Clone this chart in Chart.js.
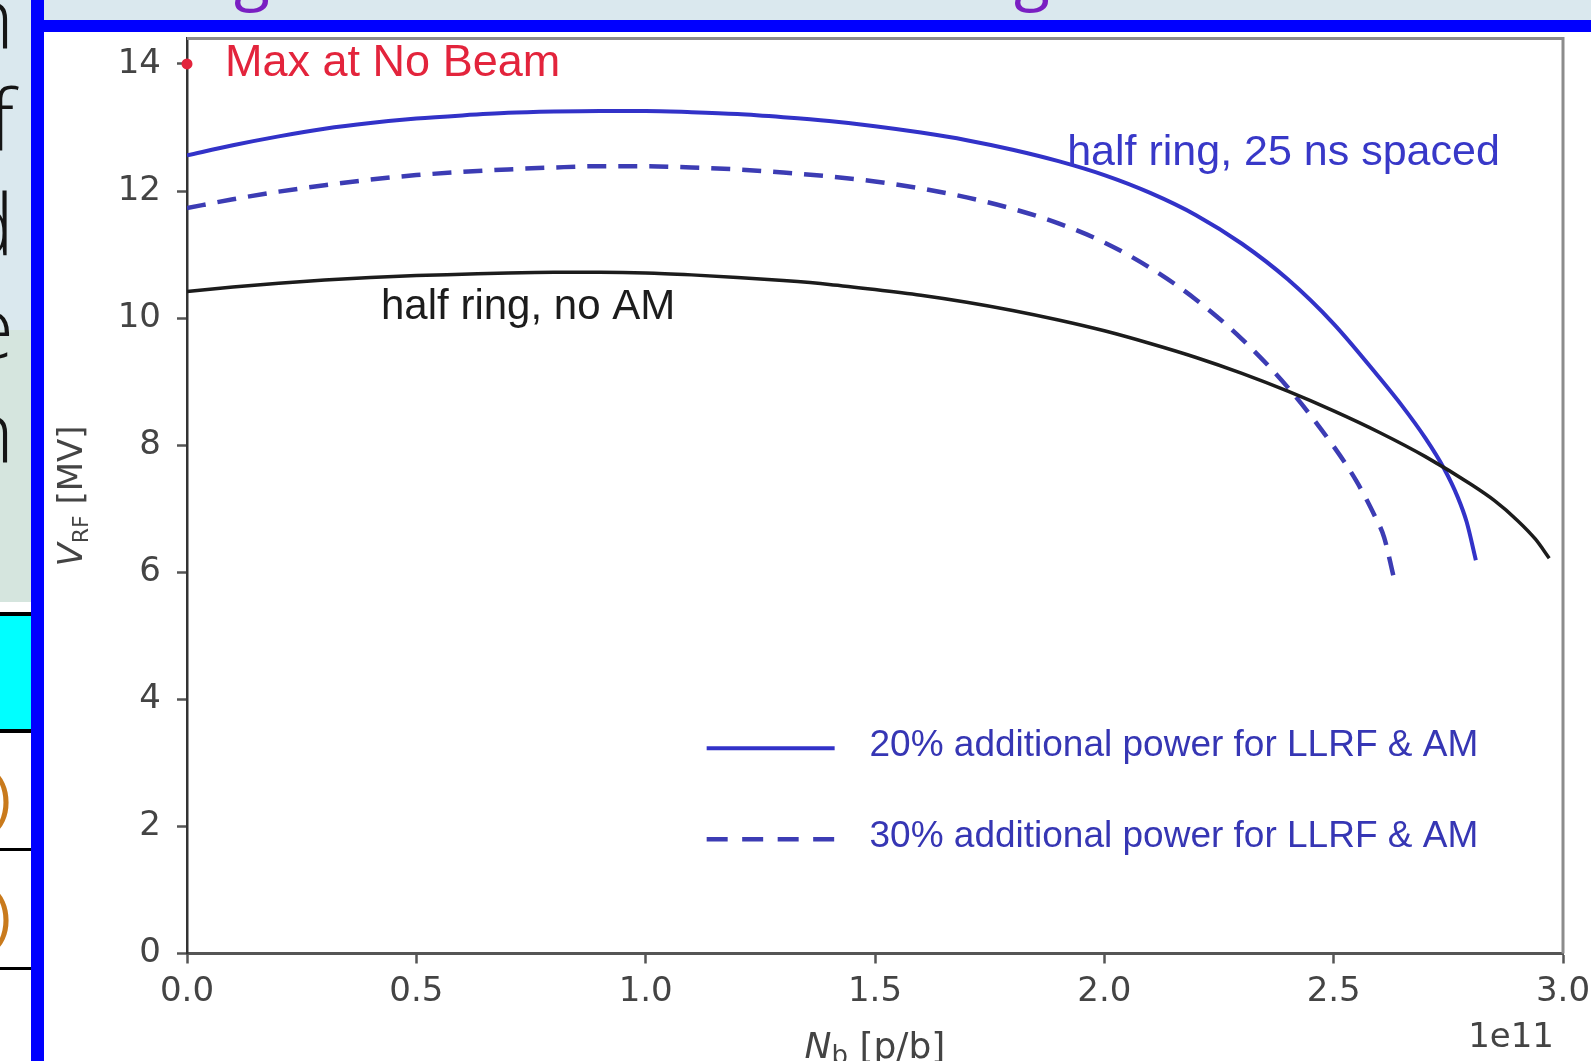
<!DOCTYPE html>
<html>
<head>
<meta charset="utf-8">
<script src="https://cdn.jsdelivr.net/npm/chart.js@4.4.1/dist/chart.umd.min.js"></script>
<style>
  html, body { margin: 0; padding: 0; width: 1591px; height: 1061px; overflow: hidden; background: #fff; }
  .abs { position: absolute; }
  #topband { left: 0; top: 0; width: 1591px; height: 20px; background: #dae8ee; }
  #panelA { left: 0; top: 0; width: 31px; height: 330px; background: #dae8ee; }
  #panelB { left: 0; top: 330px; width: 31px; height: 272px; background: #d5e5de; }
  #frameTop { left: 31px; top: 20px; width: 1560px; height: 12px; background: #0000ff; }
  #frameLeft { left: 31px; top: 0; width: 13px; height: 1061px; background: #0000ff; }
  #sidetext { left: -400px; top: -36.5px; width: 414px; text-align: right; font-family: "Open Sans"; font-weight: 300;
              font-size: 84px; line-height: 103.5px; color: #151515; }
  .rule { left: 0; width: 33px; height: 4px; background: #000; }
  #cyan { left: 0; top: 616px; width: 33px; height: 113px; background: #00ffff; }
  .paren { left: -30px; width: 41px; text-align: right; font-family: "Open Sans"; font-size: 62px; line-height: 62px; color: #c97a1c; }
  .titleg { font-family: "Open Sans"; font-size: 66px; line-height: 66px; color: #7a1fc2; top: -62px; }
  #chartBox { left: 44px; top: 32px; width: 1600px; height: 1040px; }
</style>
</head>
<body>
<div class="abs" id="topband"></div>
<div class="abs" id="panelA"></div>
<div class="abs" id="panelB"></div>
<div class="abs" id="sidetext">n<br>f<br>d<br>e<br>n</div>
<div class="abs rule" style="top:612px"></div>
<div class="abs" id="cyan"></div>
<div class="abs rule" style="top:729px"></div>
<div class="abs rule" style="top:848px; height:3px"></div>
<div class="abs rule" style="top:967px; height:3px"></div>
<div class="abs paren" style="top:765px">)</div>
<div class="abs paren" style="top:883px">)</div>
<div class="abs titleg" style="left:234px">g</div>
<div class="abs titleg" style="left:1014px">g</div>
<div class="abs" id="frameTop"></div>
<div class="abs" id="frameLeft"></div>
<div class="abs" id="chartBox"><canvas id="vrfChart" width="1600" height="1040"></canvas></div>

<script>
// N_b in units of 1e11 p/b, V_RF in MV
const blackX = [0, 0.1, 0.2, 0.3, 0.4, 0.5, 0.6, 0.7, 0.8, 0.9, 1.0, 1.1, 1.2, 1.3, 1.4, 1.5, 1.6, 1.7, 1.8, 1.9,
                2.0, 2.1, 2.2, 2.3, 2.4, 2.5, 2.6, 2.7, 2.8, 2.85, 2.9, 2.94, 2.97];
const blackY = [10.42, 10.49, 10.55, 10.60, 10.64, 10.67, 10.69, 10.71, 10.72, 10.72, 10.71, 10.68, 10.64, 10.59, 10.53, 10.45, 10.36, 10.25, 10.12, 9.97,
                9.80, 9.60, 9.38, 9.13, 8.85, 8.54, 8.20, 7.82, 7.38, 7.13, 6.82, 6.52, 6.22];

const solidX = [0, 0.1, 0.2, 0.3, 0.4, 0.5, 0.6, 0.7, 0.8, 0.9, 1.0, 1.1, 1.2, 1.3, 1.4, 1.5, 1.6, 1.7, 1.8, 1.9,
                2.0, 2.1, 2.2, 2.3, 2.4, 2.5, 2.6, 2.65, 2.7, 2.74, 2.77, 2.79, 2.81];
const solidY = [12.56, 12.72, 12.86, 12.98, 13.07, 13.14, 13.19, 13.23, 13.25, 13.26, 13.26, 13.24, 13.21, 13.16, 13.10, 13.02, 12.92, 12.80, 12.65, 12.47,
                12.25, 11.97, 11.62, 11.17, 10.61, 9.91, 9.06, 8.61, 8.11, 7.64, 7.19, 6.79, 6.19];

const dashX = [0, 0.1, 0.2, 0.3, 0.4, 0.5, 0.6, 0.7, 0.8, 0.9, 1.0, 1.1, 1.2, 1.3, 1.4, 1.5, 1.6, 1.7, 1.8, 1.9,
               2.0, 2.1, 2.2, 2.3, 2.4, 2.5, 2.55, 2.59, 2.61, 2.63];
const dashY = [11.73, 11.87, 11.99, 12.09, 12.18, 12.25, 12.30, 12.34, 12.37, 12.39, 12.39, 12.37, 12.34, 12.29, 12.23, 12.15, 12.04, 11.90, 11.72, 11.49,
               11.19, 10.79, 10.29, 9.67, 8.91, 7.98, 7.43, 6.88, 6.55, 5.95];

const maxBeamX = [0];
const maxBeamY = [14];

const xTicks = [0, 0.5, 1.0, 1.5, 2.0, 2.5, 3.0];
const xTickLabels = ['0.0', '0.5', '1.0', '1.5', '2.0', '2.5', '3.0'];
const yTicks = [0, 2, 4, 6, 8, 10, 12, 14];
const yTickLabels = ['0', '2', '4', '6', '8', '10', '12', '14'];

const legendLabels = ['20% additional power for LLRF & AM', '30% additional power for LLRF & AM'];

const BLUE = '#3232c8';
const DASHBLUE = '#3c3cb4';
const RED = '#e3243c';
const SANS = '"Liberation Sans", Arial, sans-serif';
const DV = '"DejaVu Sans", sans-serif';

function pts(xs, ys) {
    return xs.map((x, i) => ({ x: x, y: ys[i] }));
}

// text placed in data coordinates
const notes = [
    { text: 'Max at No Beam', x: 0.083, y: 14.0, color: RED, size: 45 },
    { text: 'half ring, 25 ns spaced', x: 1.919, y: 12.6, color: '#3838c8', size: 43 },
    { text: 'half ring, no AM', x: 0.423, y: 10.17, color: '#1c1c1c', size: 42 }
];
const legendSpot = { x0: 1.133, x1: 1.412, tx: 1.488, rows: [3.23, 1.80], dash: [21, 14.5] };

function drawRich(ctx, parts, x, y, align) {
    let w = 0;
    parts.forEach(p => { ctx.font = p.font; w += ctx.measureText(p.t).width; });
    let cx = align === 'center' ? x - w / 2 : (align === 'right' ? x - w : x);
    ctx.textAlign = 'left';
    ctx.textBaseline = 'alphabetic';
    parts.forEach(p => {
        ctx.font = p.font;
        ctx.fillText(p.t, cx, y + (p.dy || 0));
        cx += ctx.measureText(p.t).width;
    });
}

const extras = {
    id: 'extras',
    beforeDatasetsDraw(chart) {
        const { ctx, chartArea: a } = chart;
        ctx.save();
        ctx.strokeStyle = '#8c8c8c';
        ctx.lineWidth = 3;
        ctx.beginPath();
        ctx.moveTo(a.left, a.top);
        ctx.lineTo(a.right, a.top);
        ctx.lineTo(a.right, a.bottom);
        ctx.stroke();
        ctx.restore();
    },
    afterDraw(chart) {
        const { ctx, chartArea: a, scales: { x, y } } = chart;
        ctx.save();
        // annotations
        notes.forEach(n => {
            ctx.font = n.size + 'px ' + SANS;
            ctx.fillStyle = n.color;
            ctx.textAlign = 'left';
            ctx.textBaseline = 'middle';
            ctx.fillText(n.text, x.getPixelForValue(n.x), y.getPixelForValue(n.y));
        });
        // legend
        [1, 2].forEach((di, i) => {
            const ds = chart.data.datasets[di];
            const py = y.getPixelForValue(legendSpot.rows[i]);
            ctx.strokeStyle = ds.borderColor;
            ctx.lineWidth = ds.borderWidth;
            ctx.setLineDash(ds.borderDash ? legendSpot.dash : []);
            ctx.beginPath();
            ctx.moveTo(x.getPixelForValue(legendSpot.x0), py);
            ctx.lineTo(x.getPixelForValue(legendSpot.x1), py);
            ctx.stroke();
            ctx.setLineDash([]);
            ctx.font = '37px ' + SANS;
            ctx.fillStyle = '#3636b4';
            ctx.textAlign = 'left';
            ctx.textBaseline = 'middle';
            ctx.fillText(ds.label, x.getPixelForValue(legendSpot.tx), py - 2);
        });
        // axis titles
        ctx.fillStyle = '#444';
        drawRich(ctx, [
            { t: 'N', font: 'italic 36px ' + DV },
            { t: 'b', font: '26px ' + DV, dy: 6 },
            { t: ' [p/b]', font: '36px ' + DV }
        ], (a.left + a.right) / 2, x.top + 104, 'center');
        ctx.font = '34px ' + DV;
        ctx.textAlign = 'right';
        ctx.textBaseline = 'middle';
        ctx.fillText('1e11', a.right - 9, x.top + 85);
        ctx.translate(y.left + 38, (a.top + a.bottom) / 2);
        ctx.rotate(-Math.PI / 2);
        drawRich(ctx, [
            { t: 'V', font: 'italic 34px ' + DV },
            { t: 'RF', font: '22px ' + DV, dy: 6 },
            { t: ' [MV]', font: '34px ' + DV }
        ], 0, 0, 'center');
        ctx.restore();
    }
};

const ctx = document.getElementById('vrfChart').getContext('2d');

const chart = new Chart(ctx, {
    type: 'scatter',
    data: {
        datasets: [{
            label: 'half ring, no AM',
            data: pts(blackX, blackY),
            showLine: true,
            borderColor: '#1c1c1c',
            borderWidth: 3.5,
            pointRadius: 0,
            cubicInterpolationMode: 'monotone'
        }, {
            label: legendLabels[0],
            data: pts(solidX, solidY),
            showLine: true,
            borderColor: BLUE,
            borderWidth: 4,
            pointRadius: 0,
            cubicInterpolationMode: 'monotone'
        }, {
            label: legendLabels[1],
            data: pts(dashX, dashY),
            showLine: true,
            borderColor: DASHBLUE,
            borderWidth: 4.5,
            borderDash: [19, 12],
            pointRadius: 0,
            cubicInterpolationMode: 'monotone'
        }, {
            label: 'Max at No Beam',
            data: pts(maxBeamX, maxBeamY),
            showLine: false,
            pointRadius: 5.5,
            pointBackgroundColor: RED,
            pointBorderWidth: 0,
            clip: false
        }]
    },
    options: {
        animation: false,
        responsive: false,
        devicePixelRatio: 1,
        layout: { padding: { left: 0, top: 6.5, right: 81, bottom: 0 } },
        plugins: {
            legend: { display: false },
            tooltip: { enabled: false }
        },
        scales: {
            x: {
                type: 'linear',
                min: 0,
                max: 3,
                afterBuildTicks: s => { s.ticks = xTicks.map(v => ({ value: v })); },
                afterFit: s => { s.height = 118.5; s.paddingLeft = 0; s.paddingRight = 0; },
                ticks: {
                    callback: (v, i) => xTickLabels[i],
                    font: { size: 34, family: DV },
                    color: '#444',
                    padding: 8,
                    maxRotation: 0,
                    autoSkip: false
                },
                grid: { drawOnChartArea: false, tickLength: 10, tickColor: '#555', tickWidth: 2.5 },
                border: { color: '#555', width: 3 }
            },
            y: {
                type: 'linear',
                min: 0,
                max: 14.4,
                afterBuildTicks: s => { s.ticks = yTicks.map(v => ({ value: v })); },
                afterFit: s => { s.width = 143; s.paddingTop = 0; s.paddingBottom = 0; },
                ticks: {
                    callback: (v, i) => yTickLabels[i],
                    font: { size: 34, family: DV },
                    color: '#444',
                    padding: 16,
                    autoSkip: false
                },
                grid: { drawOnChartArea: false, tickLength: 10, tickColor: '#555', tickWidth: 2.5 },
                border: { color: '#333', width: 2.5 }
            }
        }
    },
    plugins: [extras]
});
</script>
</body>
</html>
